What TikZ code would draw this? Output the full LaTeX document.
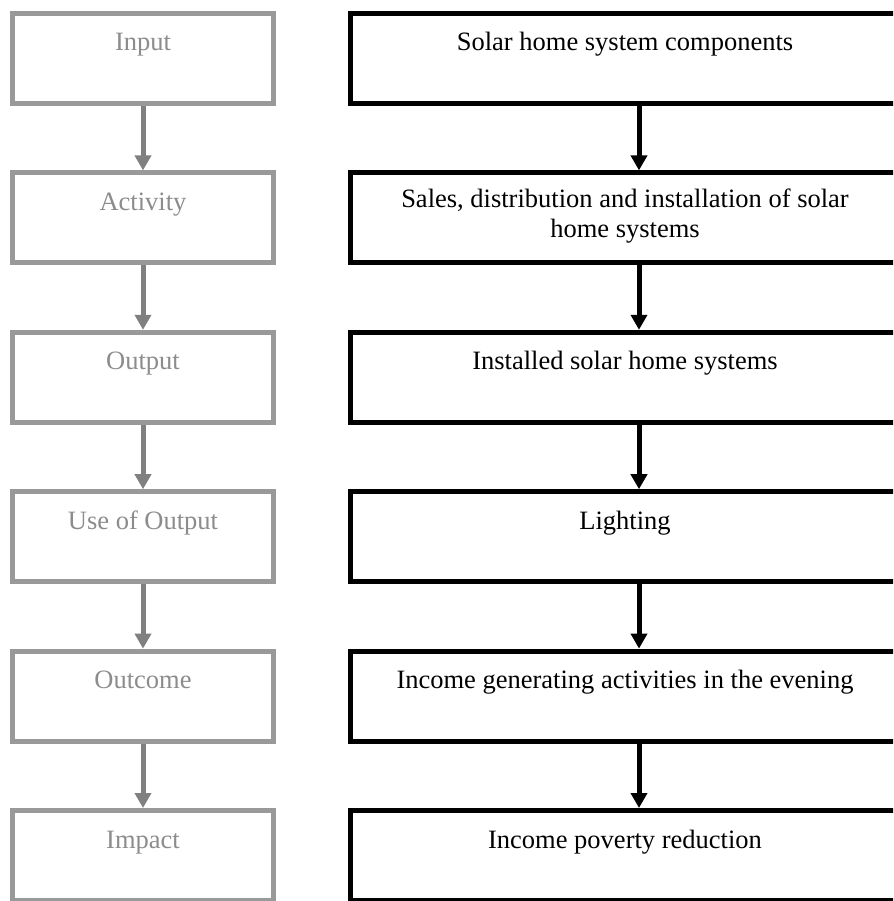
\documentclass[tikz,border=0pt]{standalone}
\usepackage{fontspec}
\setmainfont{Liberation Serif}
\usetikzlibrary{arrows.meta}
\definecolor{levelgray}{HTML}{999999}
\definecolor{levelarrow}{HTML}{808080}
\definecolor{leveltext}{HTML}{8C8C8C}
\tikzset{
  levelbox/.style={draw=levelgray, line width=5pt, outer sep=2.5pt, inner sep=0pt,
    minimum width=261pt, minimum height=90pt, rectangle},
  chainbox/.style={draw=black, line width=5pt, outer sep=2.5pt, inner sep=0pt,
    minimum width=549pt, minimum height=90pt, rectangle},
  leveltxt/.style={anchor=base, inner sep=0pt, text=leveltext,
    font=\fontsize{26.5}{30}\selectfont},
  chaintxt/.style={anchor=base, inner sep=0pt, text=black, align=center,
    font=\fontsize{26.5}{30}\selectfont},
  levelflow/.style={draw=levelarrow, line width=5pt,
    -{Triangle[width=16pt,length=15pt]}},
  chainflow/.style={draw=black, line width=5pt,
    -{Triangle[width=16pt,length=15pt]}},
}
\begin{document}
\begin{tikzpicture}[x=1pt,y=-1pt]
  \useasboundingbox (0,0) rectangle (893,901);
  \clip (0,0) rectangle (893,901);
  \fill[white] (0,0) rectangle (893,901);
  \coordinate (ax) at (639,0);
  % \dy: offset of the base line of the last text line below the box top
  \foreach \i/\lv/\ch/\dy in {
      1/Input/{Solar home system components}/40,
      2/Activity/{Sales, distribution and installation of solar\\home systems}/67,
      3/Output/{Installed solar home systems}/40,
      4/Use of Output/{Lighting}/40,
      5/Outcome/{Income generating activities in the evening}/40,
      6/Impact/{Income poverty reduction}/40} {
    \pgfmathsetmacro{\ytop}{11+159.4*(\i-1)}
    \node[levelbox] (L\i) at (143,\ytop+47.5) {};
    \node[chainbox] (R\i) at (625,\ytop+47.5) {};
    \node[leveltxt] (LT\i) at (143,\ytop+40) {\lv};
    \node[chaintxt] (RT\i) at (625,\ytop+\dy) {\ch};
  }
  \foreach \i [evaluate=\i as \j using int(\i+1)] in {1,...,5} {
    \draw[levelflow] (L\i.south) -- (L\j.north);
    \draw[chainflow] (R\i.south -| ax) -- (R\j.north -| ax);
  }
\end{tikzpicture}
\end{document}
